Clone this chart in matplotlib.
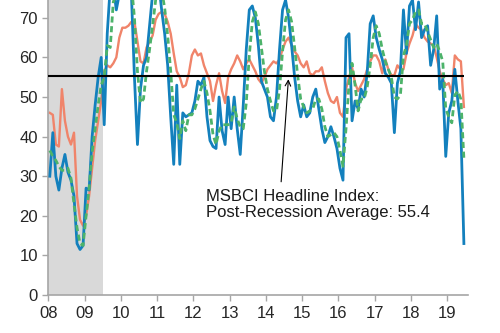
import matplotlib
matplotlib.use("Agg")
import matplotlib.pyplot as plt
import numpy as np
import pandas as pd

plt.rcParams["font.family"] = ["Liberation Sans", "DejaVu Sans"]

# monthly observations, Jan 2008 .. Jun 2019
START = "2008-01"
headline = [
    30, 41, 30, 26.5, 32, 35.5, 31, 29, 25, 13, 11.5, 12.5,
    27, 26.5, 40, 48, 55, 60, 43, 66, 78, 78, 72, 76,
    80, 80, 79, 76, 55, 38, 52, 58, 60, 68, 76, 80,
    79, 72, 66, 58, 45, 33, 53, 33, 46, 45, 45.5, 46,
    49, 54, 53, 55, 45, 39, 37.5, 37, 50, 41.5, 38, 50,
    42, 50, 42, 35.5, 48, 62, 72, 73, 70, 63, 54, 52,
    50, 45, 44, 50, 62, 72, 74.5, 70, 63, 55, 49, 45,
    48, 45, 46, 50, 52, 47, 42, 38.5, 40, 42.5, 40, 37,
    32, 29, 65, 66, 44, 49, 47, 52, 50, 56, 68.5, 70.5,
    65, 62, 59.5, 56, 55, 53.5, 41, 53.5, 56.5, 72, 61, 73,
    74.5, 67, 74, 65, 67, 68, 58, 62, 70.5, 52, 54.5, 35,
    46, 49, 57, 49, 42, 13,
]
moving_avg = [
    36.5, 35, 34, 32.5, 31.5, 31.5, 32, 29.5, 23, 17, 13, 12.5,
    20, 27, 36, 42, 48, 53, 55, 63, 62.5, 74, 76, 75.5,
    76, 78.5, 79.5, 78.5, 70, 56.5, 48.5, 49.5, 56.5, 62, 68, 74.5,
    78.5, 77, 72.5, 65.5, 56.5, 45.5, 43.5, 39.5, 44, 41.5, 45.5, 45.5,
    47, 49.5, 52, 54, 51, 46.5, 40.5, 38, 41.5, 43, 43, 43,
    43.5, 47.5, 44.5, 42.5, 42, 48.5, 60.5, 69, 71.5, 68.5, 62.5, 56.5,
    52, 49, 46.5, 46.5, 52, 61.5, 69.5, 72, 69, 62.5, 55.5, 49.5,
    47.5, 46, 46.5, 47, 49.5, 49.5, 47, 42.5, 40, 40.5, 41, 40,
    36.5, 32.5, 42, 53.5, 58.5, 53, 46.5, 49.5, 49.5, 52.5, 58, 65,
    68, 66, 62, 59, 57, 55, 50, 49.5, 50.5, 60.5, 63, 68.5,
    69.5, 71.5, 72, 68.5, 68.5, 66.5, 64.5, 62.5, 63.5, 61.5, 59, 47,
    45, 43.5, 50.5, 51.5, 49.5, 34.5,
]
other = [
    46, 45.5, 38, 37.5, 52, 44, 40, 38, 41, 25, 19, 17.5,
    20, 25, 32, 39, 44, 49, 56.5, 58, 57.5, 58.5, 60, 65,
    67.5, 67.5, 68, 69, 69, 64, 59, 58.5, 62.5, 64, 65.5, 69.5,
    71, 71.5, 71, 69, 66, 61, 56.5, 55, 52.5, 53, 56, 60.5,
    62, 60.5, 61, 58, 56, 54, 49, 53, 56, 51.5, 48.5, 55,
    57, 58.5, 60.5, 59, 57, 58.5, 59.5, 58, 56.5, 54.5, 53.5, 55,
    57, 58, 59, 58.5, 59.5, 62, 64, 65, 63, 61.5, 60.5, 58.5,
    57.5, 59, 56, 55.5, 56.5, 56.5, 57.5, 54, 51, 49, 48.5, 50,
    46, 45, 52, 55, 57.5, 53.5, 51.5, 53, 54.5, 57, 59, 60.5,
    60.5, 59, 56, 59.5, 57, 55.5, 55.5, 58, 57, 57, 61, 63.5,
    65.5, 68.5, 67.5, 67, 65, 64, 63.5, 63, 60, 56.5, 54.5, 53,
    53.5, 51, 60.5, 59.5, 59, 47.5,
]
AVERAGE = 55.4
RECESSION = (2008.0, 2009.5)
years = list(range(2008, 2020))
year_labels = [f"{y % 100:02d}" for y in years]
y_ticks = list(range(0, 80, 10))
note = "MSBCI Headline Index:\nPost-Recession Average: 55.4"

dates = pd.period_range(START, periods=len(headline), freq="M")
x = dates.year + (dates.month - 0.5) / 12

BLUE = "#1380bd"
GREEN = "#4db36a"
ORANGE = "#f0846a"
GRID = "#a6a6a6"

fig = plt.figure(figsize=(5, 3.33), dpi=100)
ax = fig.add_axes([0.0966, 0.114, 0.84, 0.886])

ax.axvspan(*RECESSION, color="#d9d9d9", lw=0, zorder=0)
ax.plot(x, other, color=ORANGE, lw=1.7, zorder=2)
ax.plot(x, headline, color=BLUE, lw=2.0, zorder=3)
ax.plot(x, moving_avg, color=GREEN, lw=2.0, ls=(0, (2.2, 1.3)), zorder=4)
ax.hlines(AVERAGE, RECESSION[0], x[-1], color="black", lw=1.5, zorder=5)

ax.annotate("", xy=(2014.62, AVERAGE - 0.9), xytext=(2014.42, 28.6),
            arrowprops=dict(arrowstyle="->", color="black", lw=0.8,
                            shrinkA=0, shrinkB=0, mutation_scale=10))
ax.text(2012.36, 26.8, note, ha="left", va="top", fontsize=12,
        color="#1a1a1a", linespacing=1.1)

ax.set_xlim(2008.0, 2019.58)
ax.set_ylim(0, 74.5)
ax.set_xticks(years)
ax.set_xticklabels(year_labels)
ax.set_yticks(y_ticks)
ax.tick_params(axis="both", colors=GRID, labelcolor="#262626", labelsize=12,
               length=4, width=1)
ax.tick_params(axis="x", pad=4)
for side in ("top", "right"):
    ax.spines[side].set_visible(False)
for side in ("left", "bottom"):
    ax.spines[side].set_color(GRID)
    ax.spines[side].set_linewidth(1.2)

fig.savefig("out.png", dpi=100)
